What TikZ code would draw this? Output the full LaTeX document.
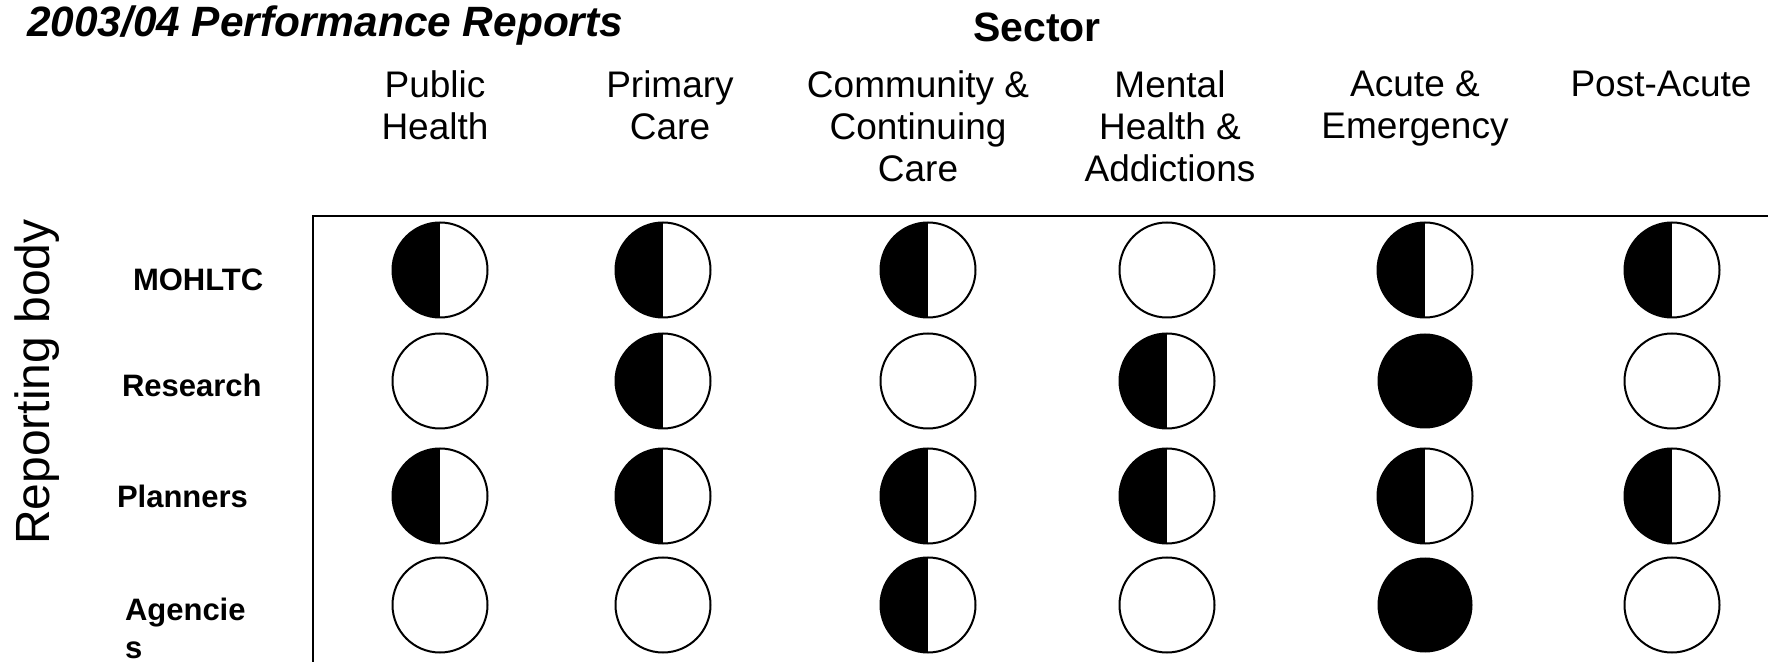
\documentclass[tikz,border=0pt]{standalone}
\usepackage{fontspec}
\setmainfont{Liberation Sans}
\begin{document}
\begin{tikzpicture}[x=0.5pt,y=0.5pt,inner sep=0pt,outer sep=0pt,
dotnode/.style={circle,minimum size=47.5pt,line width=1pt},
opendot/.style={dotnode,draw},
fulldot/.style={dotnode,fill=black},
halfdot/.style={dotnode,draw,path picture={\fill[black] (path picture bounding box.north west) rectangle (path picture bounding box.south);}},
header/.style={font=\fontsize{18.5}{21}\selectfont,align=center,anchor=north},
bodylabel/.style={font=\bfseries\fontsize{15.5}{19}\selectfont,align=left,anchor=base west}]

\useasboundingbox (0,0) rectangle (1768,-662);

\draw (27,-37) node[anchor=base west,font=\bfseries\itshape\fontsize{21.2}{25}\selectfont] (title) {2003/04 Performance Reports};
\draw (1037,-42) node[anchor=base,font=\bfseries\fontsize{20.5}{24}\selectfont] (sector) {Sector};

\draw (435,-71) node[header] (public) {Public\\Health};
\draw (670,-71) node[header] (primary) {Primary\\Care};
\draw (918,-71) node[header] (community) {Community \&\\Continuing\\Care};
\draw (1170,-71) node[header] (mental) {Mental\\Health \&\\Addictions};
\draw (1415,-71) node[header] (acute) {Acute \&\\Emergency};
\draw (1661,-71) node[header] (postacute) {Post-Acute};

\draw (49,-382) node[rotate=90,anchor=base,font=\fontsize{24}{28}\selectfont] (body) {Reporting body};
\draw (133,-291) node[bodylabel] (mohltc) {MOHLTC};
\draw (122,-397) node[bodylabel] (research) {Research};
\draw (117,-508) node[bodylabel] (planners) {Planners};
\draw (125,-658) node[bodylabel] (agencies) {Agencie\\s};

\draw[line width=1pt] (1768,-216) -| (313,-662);

\foreach \x/\s [count=\i] in {440/halfdot,663/halfdot,928/halfdot,1167/opendot,1425/halfdot,1672/halfdot}
  \draw (\x,-270) node[\s] (mohltc\i) {};
\foreach \x/\s [count=\i] in {440/opendot,663/halfdot,928/opendot,1167/halfdot,1425/fulldot,1672/opendot}
  \draw (\x,-381) node[\s] (research\i) {};
\foreach \x/\s [count=\i] in {440/halfdot,663/halfdot,928/halfdot,1167/halfdot,1425/halfdot,1672/halfdot}
  \draw (\x,-496) node[\s] (planners\i) {};
\foreach \x/\s [count=\i] in {440/opendot,663/opendot,928/halfdot,1167/opendot,1425/fulldot,1672/opendot}
  \draw (\x,-605) node[\s] (agencies\i) {};

\end{tikzpicture}
\end{document}
